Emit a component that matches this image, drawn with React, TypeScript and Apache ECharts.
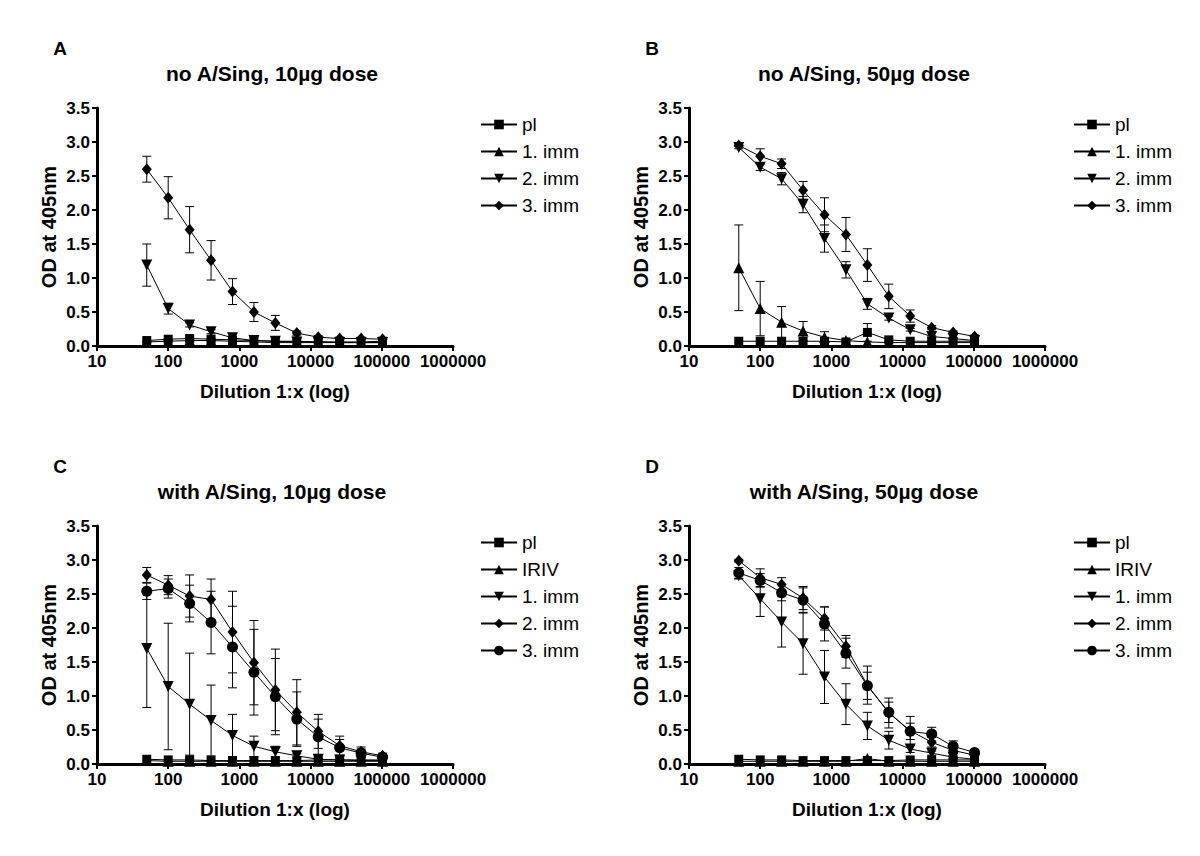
import React, { useEffect, useRef } from "react";
import * as echarts from "echarts";

// Dilutions (1:x)
const DILUTIONS = [50, 100, 200, 400, 800, 1600, 3200, 6400, 12800, 25600, 51200, 102400];

// Panel A: no A/Sing, 10µg dose
const A_PL = [0.08, 0.1, 0.11, 0.1, 0.09, 0.08, 0.07, 0.07, 0.06, 0.06, 0.06, 0.07];
const A_PL_ERR = [0, 0.01, 0.01, 0.01, 0, 0, 0, 0, 0, 0, 0, 0];
const A_IMM1 = [0.06, 0.07, 0.08, 0.08, 0.07, 0.06, 0.05, 0.05, 0.05, 0.05, 0.05, 0.05];
const A_IMM1_ERR = [0.01, 0.01, 0.01, 0.01, 0, 0, 0, 0, 0, 0, 0, 0];
const A_IMM2 = [1.19, 0.55, 0.31, 0.21, 0.12, 0.08, 0.07, 0.06, 0.06, 0.05, 0.05, 0.05];
const A_IMM2_ERR = [0.31, 0.08, 0.03, 0.03, 0.02, 0, 0, 0, 0, 0, 0, 0];
const A_IMM3 = [2.6, 2.18, 1.71, 1.26, 0.8, 0.5, 0.34, 0.19, 0.13, 0.11, 0.11, 0.1];
const A_IMM3_ERR = [0.19, 0.31, 0.34, 0.29, 0.19, 0.14, 0.11, 0.03, 0.02, 0.02, 0.02, 0.02];

// Panel B: no A/Sing, 50µg dose
const B_PL = [0.07, 0.07, 0.07, 0.07, 0.07, 0.06, 0.2, 0.09, 0.07, 0.07, 0.07, 0.07];
const B_PL_ERR = [0, 0, 0, 0, 0, 0, 0.13, 0.02, 0, 0, 0, 0];
const B_IMM1 = [1.15, 0.55, 0.35, 0.22, 0.13, 0.08, 0.06, 0.05, 0.05, 0.05, 0.05, 0.05];
const B_IMM1_ERR = [0.63, 0.4, 0.23, 0.14, 0.08, 0.02, 0, 0, 0, 0, 0, 0];
const B_IMM2 = [2.92, 2.63, 2.46, 2.08, 1.58, 1.12, 0.62, 0.41, 0.24, 0.14, 0.11, 0.08];
const B_IMM2_ERR = [0.02, 0.05, 0.09, 0.12, 0.2, 0.12, 0.08, 0.03, 0.02, 0.01, 0.01, 0.01];
const B_IMM3 = [2.95, 2.79, 2.68, 2.29, 1.93, 1.64, 1.19, 0.73, 0.44, 0.27, 0.2, 0.14];
const B_IMM3_ERR = [0.02, 0.11, 0.07, 0.13, 0.25, 0.25, 0.24, 0.18, 0.09, 0.03, 0.02, 0.02];

// Panel C: with A/Sing, 10µg dose
const C_PL = [0.07, 0.06, 0.06, 0.05, 0.05, 0.05, 0.05, 0.05, 0.06, 0.06, 0.06, 0.06];
const C_PL_ERR = [0, 0, 0, 0, 0, 0, 0, 0, 0, 0, 0, 0];
const C_IRIV = [0.05, 0.04, 0.04, 0.04, 0.04, 0.04, 0.04, 0.04, 0.04, 0.04, 0.04, 0.04];
const C_IRIV_ERR = [0, 0, 0, 0, 0, 0, 0, 0, 0, 0, 0, 0];
const C_IMM1 = [1.7, 1.14, 0.88, 0.64, 0.42, 0.26, 0.18, 0.12, 0.07, 0.06, 0.05, 0.05];
const C_IMM1_ERR = [0.87, 0.93, 0.75, 0.52, 0.31, 0.15, 0.08, 0.03, 0.01, 0.01, 0, 0];
const C_IMM2 = [2.78, 2.63, 2.47, 2.42, 1.94, 1.49, 1.09, 0.76, 0.48, 0.27, 0.18, 0.12];
const C_IMM2_ERR = [0.11, 0.14, 0.31, 0.3, 0.6, 0.62, 0.6, 0.48, 0.25, 0.14, 0.07, 0.04];
const C_IMM3 = [2.54, 2.58, 2.36, 2.08, 1.72, 1.35, 0.99, 0.66, 0.4, 0.24, 0.16, 0.1];
const C_IMM3_ERR = [0.12, 0.14, 0.27, 0.46, 0.6, 0.63, 0.56, 0.4, 0.26, 0.12, 0.06, 0.03];

// Panel D: with A/Sing, 50µg dose
const D_PL = [0.07, 0.06, 0.06, 0.05, 0.05, 0.05, 0.05, 0.05, 0.06, 0.06, 0.06, 0.06];
const D_PL_ERR = [0, 0, 0, 0, 0, 0, 0, 0, 0, 0, 0, 0];
const D_IRIV = [0.04, 0.04, 0.04, 0.04, 0.04, 0.04, 0.08, 0.04, 0.04, 0.04, 0.04, 0.04];
const D_IRIV_ERR = [0, 0, 0, 0, 0, 0, 0.02, 0, 0, 0, 0, 0];
const D_IMM1 = [2.77, 2.43, 2.09, 1.77, 1.28, 0.88, 0.56, 0.35, 0.22, 0.16, 0.1, 0.07];
const D_IMM1_ERR = [0.05, 0.26, 0.37, 0.45, 0.39, 0.3, 0.2, 0.13, 0.05, 0.03, 0.02, 0.02];
const D_IMM2 = [2.99, 2.74, 2.64, 2.44, 2.14, 1.73, 1.16, 0.75, 0.49, 0.32, 0.2, 0.13];
const D_IMM2_ERR = [0.02, 0.13, 0.1, 0.17, 0.17, 0.16, 0.28, 0.22, 0.21, 0.07, 0.05, 0.03];
const D_IMM3 = [2.81, 2.7, 2.52, 2.41, 2.06, 1.63, 1.15, 0.76, 0.48, 0.44, 0.26, 0.17];
const D_IMM3_ERR = [0.08, 0.1, 0.12, 0.18, 0.25, 0.22, 0.2, 0.15, 0.12, 0.1, 0.08, 0.04];

const LETTERS = ["A", "B", "C", "D"];
const TITLES = [
  "no A/Sing, 10µg dose",
  "no A/Sing, 50µg dose",
  "with A/Sing, 10µg dose",
  "with A/Sing, 50µg dose",
];
const Y_TITLE = "OD at 405nm";
const X_TITLE = "Dilution 1:x (log)";

type Marker = "square" | "up" | "down" | "diamond" | "circle";
type Ser = { name: string; marker: Marker; values: number[]; errors: number[] };

const PANELS: Ser[][] = [
  [
    { name: "pl", marker: "square", values: A_PL, errors: A_PL_ERR },
    { name: "1. imm", marker: "up", values: A_IMM1, errors: A_IMM1_ERR },
    { name: "2. imm", marker: "down", values: A_IMM2, errors: A_IMM2_ERR },
    { name: "3. imm", marker: "diamond", values: A_IMM3, errors: A_IMM3_ERR },
  ],
  [
    { name: "pl", marker: "square", values: B_PL, errors: B_PL_ERR },
    { name: "1. imm", marker: "up", values: B_IMM1, errors: B_IMM1_ERR },
    { name: "2. imm", marker: "down", values: B_IMM2, errors: B_IMM2_ERR },
    { name: "3. imm", marker: "diamond", values: B_IMM3, errors: B_IMM3_ERR },
  ],
  [
    { name: "pl", marker: "square", values: C_PL, errors: C_PL_ERR },
    { name: "IRIV", marker: "up", values: C_IRIV, errors: C_IRIV_ERR },
    { name: "1. imm", marker: "down", values: C_IMM1, errors: C_IMM1_ERR },
    { name: "2. imm", marker: "diamond", values: C_IMM2, errors: C_IMM2_ERR },
    { name: "3. imm", marker: "circle", values: C_IMM3, errors: C_IMM3_ERR },
  ],
  [
    { name: "pl", marker: "square", values: D_PL, errors: D_PL_ERR },
    { name: "IRIV", marker: "up", values: D_IRIV, errors: D_IRIV_ERR },
    { name: "1. imm", marker: "down", values: D_IMM1, errors: D_IMM1_ERR },
    { name: "2. imm", marker: "diamond", values: D_IMM2, errors: D_IMM2_ERR },
    { name: "3. imm", marker: "circle", values: D_IMM3, errors: D_IMM3_ERR },
  ],
];

const FONT = 'Arial, "Liberation Sans", Helvetica, sans-serif';

// layout (pixels)
const GRID_LEFT = [97, 689, 97, 689];
const GRID_TOP = [108, 108, 526, 526];
const GRID_W = 356;
const GRID_H = 238;
const LEGEND_LEFT = [475, 1068, 475, 1068];

function markerProps(m: Marker) {
  switch (m) {
    case "square":
      return { symbol: "rect", symbolSize: 9, symbolRotate: 0 };
    case "up":
      return { symbol: "triangle", symbolSize: 11, symbolRotate: 0 };
    case "down":
      return { symbol: "triangle", symbolSize: 11, symbolRotate: 180 };
    case "diamond":
      return { symbol: "diamond", symbolSize: [10, 12], symbolRotate: 0 };
    default:
      return { symbol: "circle", symbolSize: 11, symbolRotate: 0 };
  }
}

function errorRenderItem(params: any, api: any) {
  const x = api.value(0);
  const y = api.value(1);
  const e = api.value(2);
  if (!e) return null;
  const top = api.coord([x, y + e]);
  const bot = api.coord([x, Math.max(0, y - e)]);
  const hw = 4.5;
  const st = { stroke: "#000", lineWidth: 1 };
  return {
    type: "group",
    children: [
      { type: "line", shape: { x1: top[0], y1: top[1], x2: bot[0], y2: bot[1] }, style: st },
      { type: "line", shape: { x1: top[0] - hw, y1: top[1], x2: top[0] + hw, y2: top[1] }, style: st },
      { type: "line", shape: { x1: bot[0] - hw, y1: bot[1], x2: bot[0] + hw, y2: bot[1] }, style: st },
    ],
  };
}

export default function App() {
  const ref = useRef<HTMLDivElement>(null);
  useEffect(() => {
    if (!ref.current) return;
    const chart = echarts.init(ref.current, null, { renderer: "svg" });

    const grids: any[] = [];
    const xAxes: any[] = [];
    const yAxes: any[] = [];
    const legends: any[] = [];
    const series: any[] = [];
    const graphics: any[] = [];

    PANELS.forEach((panel, p) => {
      grids.push({ left: GRID_LEFT[p], top: GRID_TOP[p], width: GRID_W, height: GRID_H, containLabel: false });
      xAxes.push({
        type: "log",
        logBase: 10,
        gridIndex: p,
        min: 10,
        max: 1000000,
        name: X_TITLE,
        nameLocation: "middle",
        nameGap: 36,
        nameTextStyle: { fontSize: 19, fontWeight: "bold", color: "#000", fontFamily: FONT },
        axisLine: { show: true, lineStyle: { color: "#000", width: 3 } },
        axisTick: { show: true, length: 5, lineStyle: { color: "#000", width: 2 } },
        minorTick: { show: false },
        splitLine: { show: false },
        axisLabel: {
          fontSize: 17,
          fontWeight: "bold",
          color: "#000",
          fontFamily: FONT,
          margin: 7,
          showMinLabel: true,
          showMaxLabel: true,
          formatter: (v: number) => String(Math.round(v)),
        },
      });
      yAxes.push({
        type: "value",
        gridIndex: p,
        min: 0,
        max: 3.5,
        interval: 0.5,
        name: Y_TITLE,
        nameLocation: "middle",
        nameGap: 38,
        nameRotate: 90,
        nameTextStyle: { fontSize: 20, fontWeight: "bold", color: "#000", fontFamily: FONT },
        axisLine: { show: true, lineStyle: { color: "#000", width: 3 } },
        axisTick: { show: true, length: 5, lineStyle: { color: "#000", width: 2 } },
        splitLine: { show: false },
        axisLabel: {
          fontSize: 17,
          fontWeight: "bold",
          color: "#000",
          fontFamily: FONT,
          margin: 7,
          formatter: (v: number) => v.toFixed(1),
        },
      });

      const names: string[] = [];
      panel.forEach((s) => {
        const id = LETTERS[p] + "|" + s.name;
        names.push(id);
        const mp = markerProps(s.marker);
        series.push({
          type: "custom",
          name: id + " err",
          xAxisIndex: p,
          yAxisIndex: p,
          renderItem: errorRenderItem,
          encode: { x: 0, y: 1 },
          data: DILUTIONS.map((d, i) => [d, s.values[i], s.errors[i]]),
          silent: true,
          z: 2,
        });
        series.push({
          type: "line",
          name: id,
          xAxisIndex: p,
          yAxisIndex: p,
          data: DILUTIONS.map((d, i) => [d, s.values[i]]),
          symbol: mp.symbol,
          symbolSize: mp.symbolSize,
          symbolRotate: mp.symbolRotate,
          showAllSymbol: true,
          lineStyle: { color: "#000", width: 1 },
          itemStyle: { color: "#000", borderWidth: 0 },
          z: 3,
        });
      });

      legends.push({
        data: names,
        orient: "vertical",
        left: LEGEND_LEFT[p],
        top: GRID_TOP[p] + 2,
        itemWidth: 36,
        itemHeight: 12,
        itemGap: 8,
        selectedMode: false,
        textStyle: { fontSize: 19, color: "#000", fontFamily: FONT, lineHeight: 19 },
        formatter: (n: string) => n.split("|")[1],
      });

      const cx = GRID_LEFT[p] + GRID_W / 2 - 3;
      graphics.push({
        type: "text",
        x: cx,
        y: GRID_TOP[p] - 35,
        style: {
          text: TITLES[p],
          fontSize: 21,
          fontWeight: "bold",
          fill: "#000",
          fontFamily: FONT,
          align: "center",
          verticalAlign: "middle",
        },
      });
      graphics.push({
        type: "text",
        x: GRID_LEFT[p] - 37,
        y: GRID_TOP[p] - 60,
        style: {
          text: LETTERS[p],
          fontSize: 19,
          fontWeight: "bold",
          fill: "#000",
          fontFamily: FONT,
          align: "center",
          verticalAlign: "middle",
        },
      });
    });

    chart.setOption({
      animation: false,
      backgroundColor: "#fff",
      grid: grids,
      xAxis: xAxes,
      yAxis: yAxes,
      legend: legends,
      series,
      graphic: graphics,
    });
    return () => chart.dispose();
  }, []);
  return <div ref={ref} style={{ position: "fixed", left: 0, top: 0, width: 1200, height: 856 }} />;
}
